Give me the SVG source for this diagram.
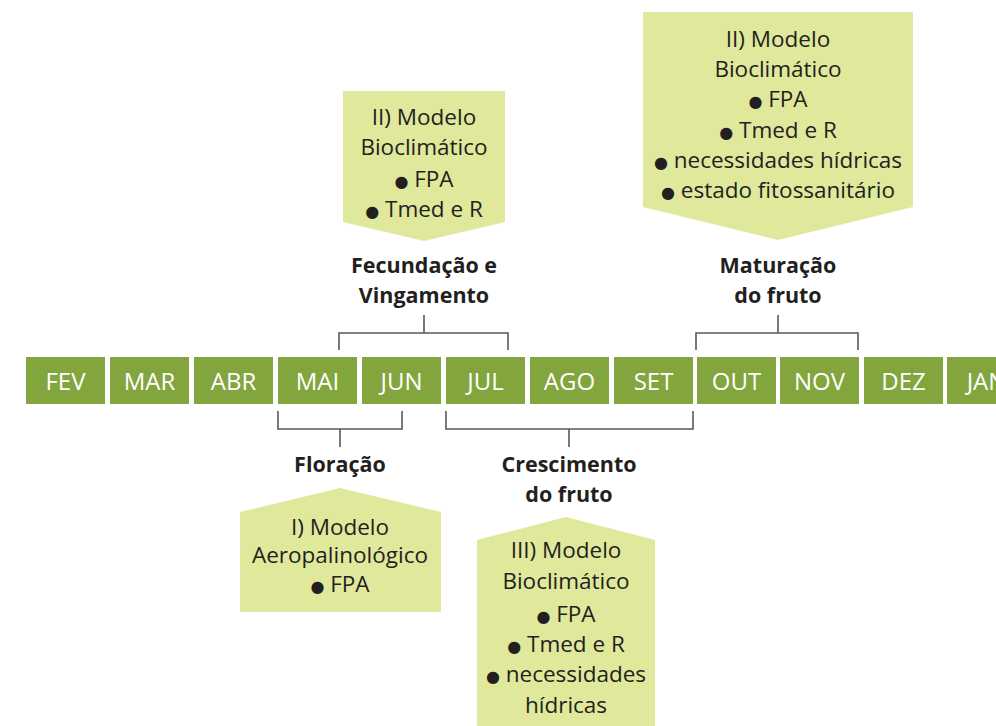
<svg xmlns="http://www.w3.org/2000/svg" width="996" height="726" viewBox="0 0 996 726">
<style>
.m{fill:#82a53e}
.mt{font-family:"Open Sans","Liberation Sans",sans-serif;font-size:24px;fill:#ffffff;text-anchor:middle}
.bx{fill:#dfe89b}
.bt{font-family:"Open Sans","Liberation Sans",sans-serif;font-size:22.5px;fill:#231f20;text-anchor:middle}
.lb{font-family:"Open Sans","Liberation Sans",sans-serif;font-size:21.5px;font-weight:bold;fill:#231f20;text-anchor:middle}
.c{fill:none;stroke:#58595b;stroke-width:1.6}
.bl{font-family:"DejaVu Sans",sans-serif;font-size:16px}
</style>
<rect width="996" height="726" fill="#ffffff"/>
<g id="months">
<g id="fev"><rect class="m" x="26" y="357" width="79" height="47"/><text class="mt" x="65.5" y="390">FEV</text></g>
<g id="mar"><rect class="m" x="110" y="357" width="79" height="47"/><text class="mt" x="149.5" y="390">MAR</text></g>
<g id="abr"><rect class="m" x="194" y="357" width="79" height="47"/><text class="mt" x="233.5" y="390">ABR</text></g>
<g id="mai"><rect class="m" x="278" y="357" width="79" height="47"/><text class="mt" x="317.5" y="390">MAI</text></g>
<g id="jun"><rect class="m" x="362" y="357" width="79" height="47"/><text class="mt" x="401.5" y="390">JUN</text></g>
<g id="jul"><rect class="m" x="446" y="357" width="79" height="47"/><text class="mt" x="485.5" y="390">JUL</text></g>
<g id="ago"><rect class="m" x="530" y="357" width="79" height="47"/><text class="mt" x="569.5" y="390">AGO</text></g>
<g id="set"><rect class="m" x="614" y="357" width="79" height="47"/><text class="mt" x="653.5" y="390">SET</text></g>
<g id="out"><rect class="m" x="697" y="357" width="79" height="47"/><text class="mt" x="736.5" y="390">OUT</text></g>
<g id="nov"><rect class="m" x="780" y="357" width="79" height="47"/><text class="mt" x="819.5" y="390">NOV</text></g>
<g id="dez"><rect class="m" x="864" y="357" width="79" height="47"/><text class="mt" x="903.5" y="390">DEZ</text></g>
<g id="jan"><rect class="m" x="947" y="357" width="79" height="47"/><text class="mt" x="986.5" y="390">JAN</text></g>
</g>
<g id="connectors">
<path class="c" d="M339,350 V333 H508 V350 M424,333 V315"/>
<path class="c" d="M696,350 V333 H858 V350 M778,333 V315"/>
<path class="c" d="M278,411 V429 H402 V411 M340,429 V447"/>
<path class="c" d="M446,411 V429 H693 V411 M569,429 V447"/>
</g>
<g id="fecundacao">
<text class="lb" x="424" y="273">Fecundação e</text>
<text class="lb" x="424" y="303">Vingamento</text>
</g>
<g id="maturacao">
<text class="lb" x="778" y="273">Maturação</text>
<text class="lb" x="778" y="303">do fruto</text>
</g>
<g id="floracao">
<text class="lb" x="340" y="472">Floração</text>
</g>
<g id="crescimento">
<text class="lb" x="569" y="472">Crescimento</text>
<text class="lb" x="569" y="502">do fruto</text>
</g>
<g id="modelo-fecundacao">
<polygon class="bx" points="343,91 505,91 505,222 424,241 343,222"/>
<text class="bt" x="424" y="125">II) Modelo</text>
<text class="bt" x="424" y="155">Bioclimático</text>
<text class="bt" x="424" y="187"><tspan class="bl">●</tspan> FPA</text>
<text class="bt" x="424" y="217"><tspan class="bl">●</tspan> Tmed e R</text>
</g>
<g id="modelo-maturacao">
<polygon class="bx" points="643,12 913,12 913,207 778,240 643,207"/>
<text class="bt" x="778" y="47">II) Modelo</text>
<text class="bt" x="778" y="77">Bioclimático</text>
<text class="bt" x="778" y="107"><tspan class="bl">●</tspan> FPA</text>
<text class="bt" x="778" y="138"><tspan class="bl">●</tspan> Tmed e R</text>
<text class="bt" x="778" y="168"><tspan class="bl">●</tspan> necessidades hídricas</text>
<text class="bt" x="778" y="198"><tspan class="bl">●</tspan> estado fitossanitário</text>
</g>
<g id="modelo-floracao">
<polygon class="bx" points="240,512 340,488 441,512 441,612 240,612"/>
<text class="bt" x="340" y="535">I) Modelo</text>
<text class="bt" x="340" y="563">Aeropalinológico</text>
<text class="bt" x="340" y="592"><tspan class="bl">●</tspan> FPA</text>
</g>
<g id="modelo-crescimento">
<polygon class="bx" points="477,540 566,517 655,540 655,726 477,726"/>
<text class="bt" x="566" y="558">III) Modelo</text>
<text class="bt" x="566" y="589">Bioclimático</text>
<text class="bt" x="566" y="622"><tspan class="bl">●</tspan> FPA</text>
<text class="bt" x="566" y="652"><tspan class="bl">●</tspan> Tmed e R</text>
<text class="bt" x="566" y="682"><tspan class="bl">●</tspan> necessidades</text>
<text class="bt" x="566" y="713">hídricas</text>
</g>
</svg>
